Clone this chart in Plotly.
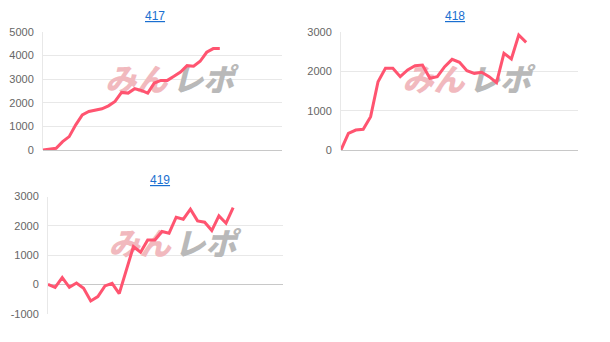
import plotly.graph_objects as go

# ---- data ----
titles = ["417", "418", "419"]
vals_417 = [0, 28, 70, 355, 567, 1064, 1489, 1631, 1702, 1745, 1872, 2057, 2440, 2411,
            2596, 2525, 2411, 2837, 2950, 2950, 3121, 3305, 3574, 3546, 3759, 4142, 4298, 4298]
vals_418 = [0, 424, 508, 525, 847, 1737, 2076, 2076, 1864, 2034, 2144, 2161, 1822, 1864,
            2119, 2305, 2229, 2017, 1949, 1975, 1864, 1712, 2458, 2314, 2924, 2737]
vals_419 = [11, -91, 239, -91, 57, -125, -557, -409, -45, 45, -307, 500, 1295, 1102,
            1523, 1523, 1807, 1750, 2295, 2227, 2568, 2170, 2125, 1841, 2341, 2091, 2625]
series = [vals_417, vals_418, vals_419]
x_max = [36.5, 32, 33]
y_ranges = [[0, 5000], [0, 3000], [-1000, 3000]]
y_ticks = [[0, 1000, 2000, 3000, 4000, 5000], [0, 1000, 2000, 3000],
           [-1000, 0, 1000, 2000, 3000]]

W, H = 610, 342
# plot areas in pixels: (left, right, top, bottom)
boxes = [(43, 282, 32, 150), (341, 578, 32, 150), (48, 283, 196.5, 314)]
title_pos = [(155, 16), (455, 16), (160, 180)]

LINE = "#ff5470"
fig = go.Figure()
axis_font = dict(family="Liberation Sans, Arial", size=11, color="#666666")

for i in range(3):
    l, r, t, b = boxes[i]
    xa = "x" if i == 0 else f"x{i+1}"
    ya = "y" if i == 0 else f"y{i+1}"
    xs = list(range(len(series[i])))
    ymin, ymax = y_ranges[i]
    # watermark (drawn below the line)
    wy = ymin + 0.565 * (ymax - ymin)
    fig.add_trace(go.Scatter(
        x=[0.39 * x_max[i]], y=[wy], mode="text", text=["みん"],
        textfont=dict(family="Noto Sans CJK JP", size=31, color="#f1b9be",
                      weight=900, style="italic"),
        xaxis=xa, yaxis=ya, hoverinfo="skip", showlegend=False))
    fig.add_trace(go.Scatter(
        x=[0.67 * x_max[i]], y=[wy], mode="text", text=["レポ"],
        textfont=dict(family="Noto Sans CJK JP", size=31, color="#b9b9b9",
                      weight=900, style="italic"),
        xaxis=xa, yaxis=ya, hoverinfo="skip", showlegend=False))
    fig.add_trace(go.Scatter(
        x=xs, y=series[i], mode="lines", line=dict(color=LINE, width=3),
        xaxis=xa, yaxis=ya, showlegend=False, hoverinfo="skip"))

    xkey = "xaxis" if i == 0 else f"xaxis{i+1}"
    ykey = "yaxis" if i == 0 else f"yaxis{i+1}"
    fig.layout[xkey] = dict(
        domain=[l / W, r / W], range=[0, x_max[i]], anchor=ya,
        showticklabels=False, showgrid=False, zeroline=False,
        showline=False, fixedrange=True, automargin=False)
    fig.layout[ykey] = dict(
        domain=[1 - b / H, 1 - t / H], range=[ymin, ymax], anchor=xa,
        tickvals=y_ticks[i], ticktext=[str(v) for v in y_ticks[i]],
        tickfont=axis_font, showgrid=True, gridcolor="#e8e8e8", gridwidth=1,
        zeroline=True, zerolinecolor="#c8c8c8", zerolinewidth=1,
        showline=True, linecolor="#e8e8e8", linewidth=1,
        ticks="", ticklabelstandoff=6, fixedrange=True, automargin=False)
    tx, ty = title_pos[i]
    fig.add_annotation(
        x=tx / W, y=1 - ty / H, xref="paper", yref="paper",
        text=f"<u>{titles[i]}</u>", showarrow=False,
        font=dict(family="Liberation Sans, Arial", size=12, color="#1a6fd0"),
        xanchor="center", yanchor="middle")

fig.update_layout(
    width=W, height=H, margin=dict(l=0, r=0, t=0, b=0, pad=0),
    paper_bgcolor="white", plot_bgcolor="white")

fig.write_html("out.html")
